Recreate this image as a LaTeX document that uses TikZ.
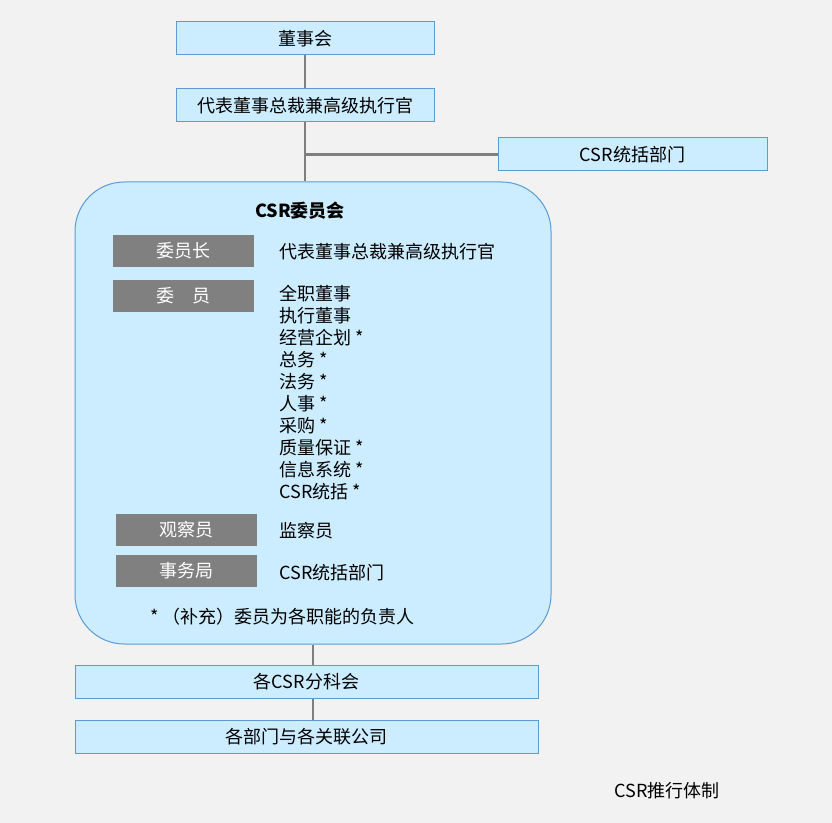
\documentclass[tikz,border=0pt]{standalone}
\usepackage{fontspec}
\setmainfont{Noto Sans CJK SC}
\definecolor{bgcolor}{HTML}{F2F2F2}
\definecolor{boxfill}{HTML}{CCECFF}
\definecolor{boxline}{HTML}{5B9BD5}
\definecolor{rolegray}{HTML}{808080}
\definecolor{linegray}{HTML}{7F7F7F}
\begin{document}
\begin{tikzpicture}[x=0.75pt, y=-0.75pt, font=\fontsize{13.5}{16.5}\selectfont,
	unit/.style={draw=boxline, fill=boxfill, line width=0.75pt, minimum height=24.75pt, inner sep=0pt},
	role/.style={fill=rolegray, text=white, minimum width=105.75pt, minimum height=24pt, inner sep=0pt},
	item/.style={anchor=west, inner sep=0pt},
	link/.style={draw=linegray, line width=2pt}]
	\fill[bgcolor] (0,0) rectangle (832,823);
	\useasboundingbox (0,0) rectangle (832,823);
	% upper chain
	\node[unit, minimum width=193.5pt] (board) at (305,38.5) {董事会};
	\node[unit, minimum width=193.5pt] (ceo) at (305,105.5) {代表董事总裁兼高级执行官};
	\node[unit, minimum width=201.75pt] (csrdept) at (632.5,154.5) {CSR统括部门};
	% committee
	\node[draw=boxline, fill=boxfill, line width=0.75pt, rounded corners=37pt,
		minimum width=357pt, minimum height=346.5pt] (committee) at (313,413) {};
	\node (title) at (300,211) {\textbf{CSR委员会}};
	\node[role] (chair) at (183.5,251) {委员长};
	\node[role] (members) at (183.5,296) {委　员};
	\node[role] (observer) at (186,530) {观察员};
	\node[role] (office) at (186,571) {事务局};
	\node[item] (chairname) at (279,252) {代表董事总裁兼高级执行官};
	\foreach \t [count=\i] in {全职董事, 执行董事, 经营企划 *, 总务 *, 法务 *, 人事 *,
		采购 *, 质量保证 *, 信息系统 *, CSR统括 *}
		\node[item] (mem\i) at (279,272+22*\i) {\t};
	\node[item] (observername) at (279,531) {监察员};
	\node[item] (officename) at (279,573) {CSR统括部门};
	\node[item] (note) at (150,617) {*\ （补充）委员为各职能的负责人};
	% lower chain
	\node[unit, minimum width=347.25pt] (sub) at (306.5,681.5) {各CSR分科会};
	\node[unit, minimum width=347.25pt] (depts) at (306.5,736.5) {各部门与各关联公司};
	\node (caption) at (667,791) {CSR推行体制};
	% connectors
	\coordinate (split) at (ceo |- csrdept);
	\draw[link] (board) -- (ceo);
	\draw[link] (ceo) -- (ceo |- committee.north);
	\draw[link] (split) -- (csrdept);
	\draw[link] (committee.south) -- (committee.south |- sub.north);
	\draw[link] (committee.south |- sub.south) -- (committee.south |- depts.north);
\end{tikzpicture}
\end{document}
